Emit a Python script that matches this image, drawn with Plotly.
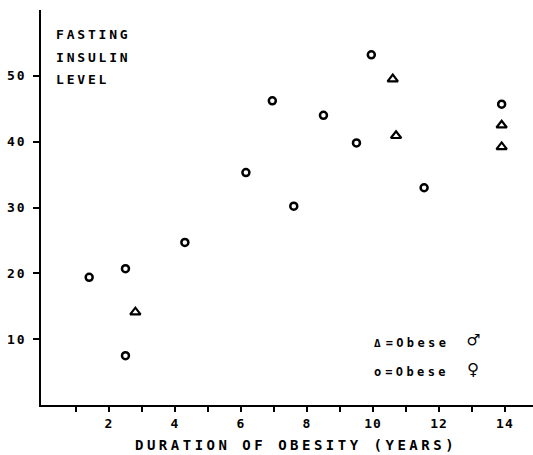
import plotly.graph_objects as go

# Data
female_duration = [1.4, 2.5, 2.5, 4.3, 6.15, 6.95, 7.6, 8.5, 9.5, 9.95, 11.55, 13.9]
female_insulin = [19.4, 20.7, 7.5, 24.7, 35.3, 46.2, 30.2, 44.0, 39.8, 53.2, 33.0, 45.7]
male_duration = [2.8, 10.6, 10.7, 13.9, 13.9]
male_insulin = [14.1, 49.5, 40.9, 42.5, 39.2]

x_tick_values = list(range(1, 15))
x_tick_labels = [str(v) if v % 2 == 0 else "" for v in x_tick_values]
y_tick_values = [10, 20, 30, 40, 50]
y_tick_labels = ["10", "20", "30", "40", "50"]

FONT = "DejaVu Sans Mono"


def spaced(text, px):
    return f'<span style="letter-spacing:{px}px">{text}</span>'


fig = go.Figure()
fig.add_trace(go.Scatter(
    x=female_duration, y=female_insulin, mode="markers",
    marker=dict(symbol="circle-open", size=7, color="black", line=dict(width=2.5, color="black")),
    showlegend=False, cliponaxis=False,
))
fig.add_trace(go.Scatter(
    x=male_duration, y=male_insulin, mode="markers",
    marker=dict(symbol="triangle-up-open", size=9, color="black", line=dict(width=2.2, color="black")),
    showlegend=False, cliponaxis=False,
))

fig.update_layout(
    width=533, height=455,
    margin=dict(l=41, r=0, t=10, b=50),
    paper_bgcolor="white", plot_bgcolor="white",
    font=dict(family=FONT, size=13, color="black"),
    xaxis=dict(
        range=[-0.06, 14.85], showgrid=False, zeroline=False,
        showline=True, linecolor="black", linewidth=2,
        tickmode="array", tickvals=x_tick_values,
        ticktext=[spaced(t, 1) for t in x_tick_labels],
        ticks="outside", ticklen=5, tickwidth=1.5, tickcolor="black",
        tickfont=dict(family=FONT, size=13, color="black", weight="bold"),
        ticklabelstandoff=0,
    ),
    yaxis=dict(
        range=[0, 60], showgrid=False, zeroline=False,
        showline=True, linecolor="black", linewidth=1.5,
        tickmode="array", tickvals=y_tick_values,
        ticktext=[spaced(t, 2) for t in y_tick_labels],
        ticks="outside", ticklen=6, tickwidth=1.5, tickcolor="black",
        tickfont=dict(family=FONT, size=13, color="black", weight="bold"),
        ticklabelstandoff=4,
    ),
)

ann_font = dict(family=FONT, size=13, color="black", weight="bold")
for txt, yv in [("FASTING", 56.3), ("INSULIN", 52.8), ("LEVEL", 49.5)]:
    fig.add_annotation(x=0.33, y=yv, xref="x", yref="y", text=spaced(txt, 2.8),
                       showarrow=False, xanchor="left", yanchor="middle", font=ann_font)

fig.add_annotation(x=0.5, y=-0.1, xref="paper", yref="paper", xshift=9,
                   text=spaced("DURATION OF OBESITY (YEARS)", 3.5),
                   showarrow=False, xanchor="center", yanchor="middle",
                   font=dict(family=FONT, size=14, color="black", weight="bold"))

leg_font = dict(family=FONT, size=12, color="black", weight="bold")
gap = '<span style="font-size:20px;letter-spacing:6px"> </span>'
fig.add_annotation(x=9.97, y=9.85, xref="x", yref="y",
                   text='<span style="font-size:11px;letter-spacing:5px">Δ</span>'
                        + spaced("=Obese", 3.4) + gap
                        + '<span style="font-size:20px;letter-spacing:0px">♂</span>',
                   showarrow=False, xanchor="left", yanchor="middle", font=leg_font)
fig.add_annotation(x=9.97, y=5.5, xref="x", yref="y",
                   text='<span style="font-size:12px;letter-spacing:4px">o</span>'
                        + spaced("=Obese", 3.4) + gap
                        + '<span style="font-size:20px;letter-spacing:0px">♀</span>',
                   showarrow=False, xanchor="left", yanchor="middle", font=leg_font)

fig.write_html("out.html")
